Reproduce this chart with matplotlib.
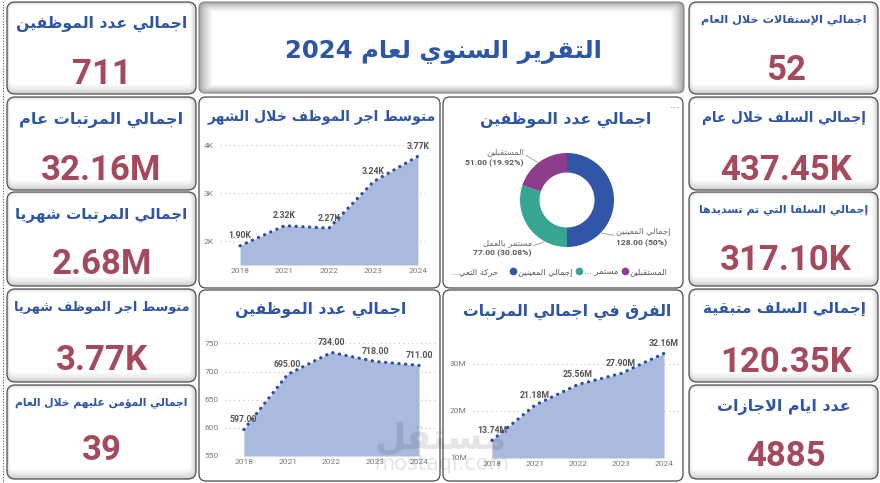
import re
import matplotlib
matplotlib.use("Agg")
import matplotlib.pyplot as plt
import numpy as np
from matplotlib.lines import Line2D
from matplotlib.patches import FancyBboxPatch

# ---------------- data ----------------
years = ["2018", "2021", "2022", "2023", "2024"]
avg_wage = [1900, 2320, 2270, 3240, 3770]
employees = [597, 695, 734, 718, 711]
salary_diff = [13.74, 21.18, 25.56, 27.90, 32.16]   # millions

status_names = ["إجمالي المعينين", "مستمر بالعمل", "المستقبلين"]
status_counts = [128, 77, 51]
status_colors = ["#3156A8", "#37A591", "#8E3C8C"]
legend_title = "حركة التعي"
legend_names = ["إجمالي المعينين", "مستمر", "المستقبلين"]

left_titles = ["اجمالي عدد الموظفين", "اجمالي المرتبات عام", "اجمالي المرتبات شهريا",
               "متوسط اجر الموظف شهريا", "اجمالي المؤمن عليهم خلال العام"]
left_values = ["711", "32.16M", "2.68M", "3.77K", "39"]
right_titles = ["اجمالي الإستقالات خلال العام", "إجمالي السلف خلال عام",
                "إجمالي السلفا التي تم تسديدها", "إجمالي السلف متبقية", "عدد ايام الاجازات"]
right_values = ["52", "437.45K", "317.10K", "120.35K", "4885"]

main_title = "التقرير السنوي لعام 2024"
chart_titles = ["متوسط اجر الموظف خلال الشهر", "اجمالي عدد الموظفين",
                "اجمالي عدد الموظفين", "الفرق في اجمالي المرتبات"]

BLUE = "#2E55A6"
RED = "#A54A5D"
AREA = "#AAB9DE"
LINE = "#2D4FA2"

# ---------------- arabic shaping (presentation forms + rtl order) ----------------
FORMS = {
    "ء": (0xFE80, 1), "آ": (0xFE81, 2), "أ": (0xFE83, 2), "ؤ": (0xFE85, 2), "إ": (0xFE87, 2),
    "ئ": (0xFE89, 4), "ا": (0xFE8D, 2), "ب": (0xFE8F, 4), "ة": (0xFE93, 2), "ت": (0xFE95, 4),
    "ث": (0xFE99, 4), "ج": (0xFE9D, 4), "ح": (0xFEA1, 4), "خ": (0xFEA5, 4), "د": (0xFEA9, 2),
    "ذ": (0xFEAB, 2), "ر": (0xFEAD, 2), "ز": (0xFEAF, 2), "س": (0xFEB1, 4), "ش": (0xFEB5, 4),
    "ص": (0xFEB9, 4), "ض": (0xFEBD, 4), "ط": (0xFEC1, 4), "ظ": (0xFEC5, 4), "ع": (0xFEC9, 4),
    "غ": (0xFECD, 4), "ف": (0xFED1, 4), "ق": (0xFED5, 4), "ك": (0xFED9, 4), "ل": (0xFEDD, 4),
    "م": (0xFEE1, 4), "ن": (0xFEE5, 4), "ه": (0xFEE9, 4), "و": (0xFEED, 2), "ى": (0xFEEF, 2),
    "ي": (0xFEF1, 4),
}
LAM_ALEF = {"آ": 0xFEF5, "أ": 0xFEF7, "إ": 0xFEF9, "ا": 0xFEFB}


def shape(text):
    units = []
    i = 0
    while i < len(text):
        c = text[i]
        if c == "ل" and i + 1 < len(text) and text[i + 1] in LAM_ALEF:
            units.append(("LA", text[i + 1]))
            i += 2
        else:
            units.append((c, None))
            i += 1

    def joins_next(u):
        return u is not None and u[0] in FORMS and FORMS[u[0]][1] == 4

    def joins_prev(u):
        return u is not None and (u[0] == "LA" or (u[0] in FORMS and FORMS[u[0]][1] > 1))

    out = []
    for k, u in enumerate(units):
        prev = units[k - 1] if k > 0 else None
        nxt = units[k + 1] if k + 1 < len(units) else None
        p = joins_next(prev)
        if u[0] == "LA":
            out.append(chr(LAM_ALEF[u[1]] + (1 if p else 0)))
            continue
        if u[0] not in FORMS:
            out.append(u[0])
            continue
        base, n = FORMS[u[0]]
        nx = n == 4 and joins_prev(nxt)
        if n == 1:
            off = 0
        elif p and nx:
            off = 3
        elif p:
            off = 1
        elif nx:
            off = 2
        else:
            off = 0
        out.append(chr(base + off))
    return "".join(out)


def ar(text):
    runs = re.findall(r"[\u0600-\u06FF ]+|[^\u0600-\u06FF ]+", text)
    return "".join(shape(r)[::-1] if re.match(r"[\u0600-\u06FF ]", r) else r
                   for r in reversed(runs))


# ---------------- figure ----------------
W, H = 880, 483
fig = plt.figure(figsize=(W / 100, H / 100), dpi=100)
bg = fig.add_axes([0, 0, 1, 1])
bg.set_xlim(0, W)
bg.set_ylim(H, 0)
bg.axis("off")
renderer = fig.canvas.get_renderer()


def px_rect(x0, y0, x1, y1):
    return [x0 / W, 1 - y1 / H, (x1 - x0) / W, (y1 - y0) / H]


def rbox(x0, y0, x1, y1, fc, ec="none", lw=0, r=8, z=1):
    bg.add_patch(FancyBboxPatch((x0, y0), x1 - x0, y1 - y0,
                                boxstyle=f"round,pad=0,rounding_size={r}",
                                fc=fc, ec=ec, lw=lw, zorder=z))


def fit_text(x, y, s, width, color=BLUE, weight="bold", family="DejaVu Sans", size=14):
    t = bg.text(x, y, s, ha="center", va="center", fontsize=size, fontweight=weight,
                color=color, family=family, zorder=5)
    w = t.get_window_extent(renderer).width
    t.set_fontsize(size * width / w)
    return t


def kpi_card(x0, y0, x1, y1):
    steps = 8
    for i in range(steps):
        g = 0.80 + 0.20 * (i / (steps - 1)) ** 0.8
        rbox(x0 + 0.4 * i, y0 + 0.4 * i, x1 - 0.8 * i, y1 - 1.3 * i, (g, g, g),
             r=max(8 - 0.6 * i, 2))
    rbox(x0, y0, x1, y1, "none", ec="#505050", lw=0.9, z=2)


def value_text(x, y, s):
    fs = 25
    bg.text(x, y + 0.36 * fs * 100 / 72, s, ha="center", va="baseline", fontsize=fs,
            fontweight="bold", family="Roboto", color=RED, zorder=5)


# dotted selection edge on the left
bg.axvline(2.5, color="#555555", lw=0.8, ls=(0, (1, 1.5)))

# KPI cards
card_y = [(2, 94), (97, 190), (192, 286), (289, 382), (385, 479)]
left_title_y = [24, 120, 214, 307, 403]
left_value_y = [72, 167, 262, 358, 448]
left_title_w = [173, 165, 173, 177, 175]
right_title_y = [20, 118, 210, 308, 407]
right_value_y = [67, 168, 258, 360, 453]
right_title_w = [167, 165, 170, 164, 134]

for (y0, y1), t, v, ty, vy, tw in zip(card_y, left_titles, left_values,
                                      left_title_y, left_value_y, left_title_w):
    kpi_card(7, y0, 196, y1)
    fit_text(101.5, ty, ar(t), tw)
    value_text(101.5, vy, v)

for (y0, y1), t, v, ty, vy, tw in zip(card_y, right_titles, right_values,
                                      right_title_y, right_value_y, right_title_w):
    kpi_card(689, y0, 878, y1)
    fit_text(784, ty, ar(t), tw)
    value_text(786, vy, v)

# main title box
tx0, ty0, tx1, ty1 = 199, 2, 684, 93
for i in range(13):
    g = 0.62 + 0.38 * (i / 12) ** 0.7
    rbox(tx0 + 1.1 * i, ty0 + 0.8 * i, tx1 - 1.1 * i, ty1 - 0.7 * i, (g, g, g),
         r=max(6 - 0.4 * i, 1))
rbox(tx0, ty0, tx1, ty1, "none", ec="#8A8A8A", lw=0.8, r=6, z=2)
fit_text(443, 52, ar(main_title), 320)

# chart cards
chart_boxes = [(199, 97, 440, 288), (443, 97, 683, 288), (199, 290, 440, 481), (443, 290, 683, 481)]
chart_title_pos = [(322, 117, 230), (566, 120, 173), (321, 310, 173), (567, 312, 210)]
for (x0, y0, x1, y1), t, (cx, cy, cw) in zip(chart_boxes, chart_titles, chart_title_pos):
    rbox(x0, y0, x1, y1, "white", ec="#4A4A4A", lw=0.9, r=7)
    fit_text(cx, cy, ar(t), cw)


# ---------------- area charts ----------------
def area_chart(rect, xlim, values, ylim, yticks, ytick_labels, labels):
    ax = fig.add_axes(px_rect(*rect))
    ax.patch.set_visible(False)
    x = np.arange(len(years))
    ax.fill_between(x, values, ylim[0], color=AREA, lw=0, zorder=2)
    ax.plot(x, values, color=LINE, lw=2.3, ls=(0, (0.1, 2.0)), dash_capstyle="round", zorder=3)
    for xi, v, s in zip(x, values, labels):
        ax.annotate(s, (xi, v), xytext=(0, 4), textcoords="offset points", ha="center",
                    va="bottom", fontsize=6.3, fontweight="bold", color="#555555",
                    family="Roboto", zorder=4, annotation_clip=False)
    ax.set_xlim(*xlim)
    ax.set_ylim(*ylim)
    ax.set_xticks(x, years)
    ax.set_yticks(yticks, ytick_labels)
    ax.grid(axis="y", color="#C8C8C8", lw=0.8, ls=(0, (1, 3)), zorder=1)
    ax.set_axisbelow(True)
    for s in ax.spines.values():
        s.set_visible(False)
    ax.tick_params(length=0, labelsize=6, labelcolor="#7A7A7A")
    ax.tick_params(axis="y", pad=4.5)
    ax.tick_params(axis="x", pad=2)
    for lab in ax.get_xticklabels() + ax.get_yticklabels():
        lab.set_family("Roboto")
    return ax


area_chart((220, 138, 426, 265), (-0.45, 4.18), avg_wage, (1500, 4150),
           [2000, 3000, 4000], ["2K", "3K", "4K"],
           [f"{v / 1000:.2f}K" for v in avg_wage])
area_chart((225, 335, 437, 456), (-0.43, 4.41), employees, (550, 765),
           [550, 600, 650, 700, 750], ["550", "600", "650", "700", "750"],
           [f"{v:.2f}" for v in employees])
area_chart((473, 347, 680, 458), (-0.44, 4.37), salary_diff, (10, 33.5),
           [10, 20, 30], ["10M", "20M", "30M"],
           [f"{v:.2f}M" for v in salary_diff])

# ---------------- donut ----------------
R = 47
dax = fig.add_axes(px_rect(567 - 60, 200 - 60, 567 + 60, 200 + 60))
wedges, _ = dax.pie(status_counts, colors=status_colors, startangle=90, counterclock=False,
                    radius=1, wedgeprops=dict(width=0.415, lw=0))
lim = 60 / R
dax.set_xlim(-lim, lim)
dax.set_ylim(-lim, lim)
dax.axis("off")

total = sum(status_counts)
anchor_deg = [-44, -119, 128]
label_xy = [(1.04, -0.80, "left"), (-0.745, -1.02, "right"), (-0.915, 0.90, "right")]
for name, cnt, a, (lx, ly, ha) in zip(status_names, status_counts, anchor_deg, label_xy):
    pct = f"{cnt / total * 100:.2f}".rstrip("0").rstrip(".")
    ex, ey = 1.02 * np.cos(np.radians(a)), 1.02 * np.sin(np.radians(a))
    end_x = lx - 0.04 if ha == "left" else lx + 0.04
    dax.plot([ex, end_x], [ey, ly + 0.05], color="#A8A8A8", lw=0.7, clip_on=False)
    dax.text(lx, ly + 0.12, ar(name), ha=ha, va="center", fontsize=6, color="#6A6A6A",
             family="DejaVu Sans")
    dax.text(lx, ly - 0.12, f"{cnt:.2f} ({pct}%)", ha=ha, va="center", fontsize=6.1,
             fontweight="bold", color="#5A5A5A", family="Roboto")

# legend
handles = [Line2D([], [], marker="o", ls="", color=c, markersize=4.5) for c in status_colors]
leg_texts = [ar(legend_names[0]), "... " + ar(legend_names[1]), ar(legend_names[2])]
bg.legend(handles, leg_texts, ncol=3, loc="center left", bbox_to_anchor=(506, 272),
          bbox_transform=bg.transData, frameon=False, fontsize=6, handlelength=0.6,
          handletextpad=0.3, columnspacing=0.5, borderpad=0, labelcolor="#5A5A5A")
bg.text(498, 272, "..." + ar(legend_title), ha="right", va="center", fontsize=6,
        color="#5A5A5A", zorder=5)
bg.text(675, 108, "···", ha="center", va="center", fontsize=8, color="#777777", zorder=5)

# watermark
fig.text(440 / W, 1 - 438 / H, ar("مستقل"), ha="center", va="center", fontsize=26,
         fontweight="bold", color="#000000", alpha=0.10)
fig.text(442 / W, 1 - 464 / H, "mostaql.com", ha="center", va="center", fontsize=15,
         color="#000000", alpha=0.10, family="DejaVu Sans")

fig.savefig("out.png", dpi=100)
